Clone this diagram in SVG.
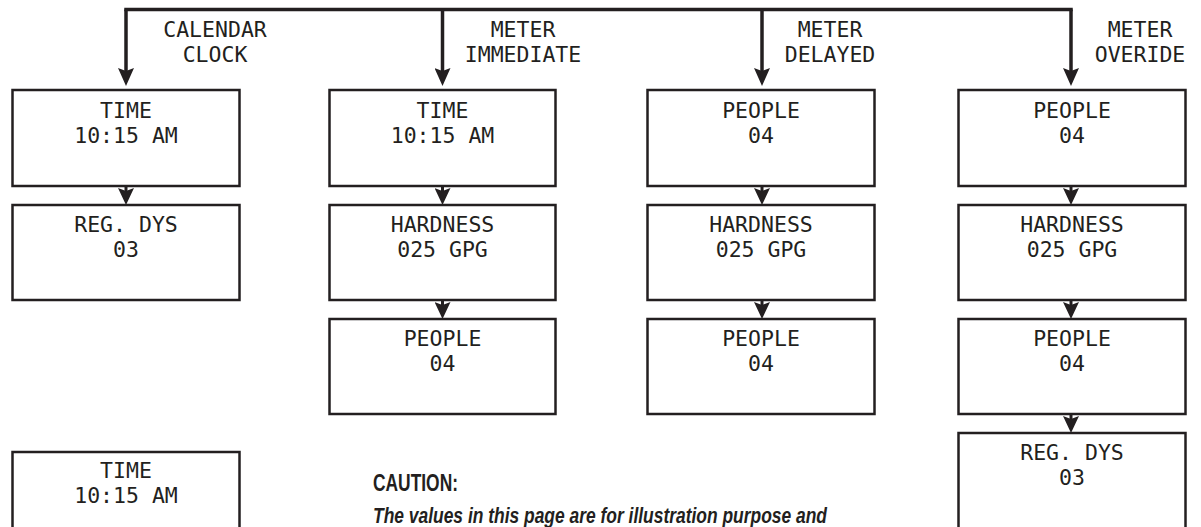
<svg xmlns="http://www.w3.org/2000/svg" width="1201" height="527" viewBox="0 0 1201 527">
<style>
.box{fill:#fff;stroke:#231f20;stroke-width:2.5}
.t{font-family:"DejaVu Sans Mono","Liberation Mono",monospace;font-size:21.5px;fill:#231f20;text-anchor:middle}
.c{fill:none;stroke:#231f20;stroke-width:3.5}
.s{fill:none;stroke:#231f20;stroke-width:3}
.cap{font-family:"Liberation Sans",Arial,sans-serif;font-weight:bold;fill:#231f20}
</style>
<defs>
<marker id="ah" viewBox="-18 -8 18 16" refX="-9" refY="0" markerWidth="18" markerHeight="16" markerUnits="userSpaceOnUse" orient="auto">
<path d="M0,0 L-18,-8 L-15,0 L-18,8 Z" fill="#231f20"/>
</marker>
<marker id="ah2" viewBox="-17 -8 17 16" refX="-9" refY="0" markerWidth="17" markerHeight="16" markerUnits="userSpaceOnUse" orient="auto">
<path d="M0,0 L-17,-8 L-14,0 L-17,8 Z" fill="#231f20"/>
</marker>
</defs>
<g id="connectors">
<path class="c" d="M124.25,9.5 H1072.75"/>
<path class="c" d="M126,9.5 V77" marker-end="url(#ah)"/>
<path class="c" d="M442.5,9.5 V77" marker-end="url(#ah)"/>
<path class="c" d="M762,9.5 V77" marker-end="url(#ah)"/>
<path class="c" d="M1071,9.5 V77" marker-end="url(#ah)"/>
<path class="s" d="M126,186 V196" marker-end="url(#ah2)"/>
<path class="s" d="M442.5,186 V196" marker-end="url(#ah2)"/>
<path class="s" d="M442.5,300 V310" marker-end="url(#ah2)"/>
<path class="s" d="M762,186 V196" marker-end="url(#ah2)"/>
<path class="s" d="M762,300 V310" marker-end="url(#ah2)"/>
<path class="s" d="M1071,186 V196" marker-end="url(#ah2)"/>
<path class="s" d="M1071,300 V310" marker-end="url(#ah2)"/>
<path class="s" d="M1071,414 V424" marker-end="url(#ah2)"/>
</g>
<g id="labels">
<text class="t" x="215" y="37">CALENDAR</text>
<text class="t" x="215" y="62">CLOCK</text>
<text class="t" x="523" y="37">METER</text>
<text class="t" x="523" y="62">IMMEDIATE</text>
<text class="t" x="830" y="37">METER</text>
<text class="t" x="830" y="62">DELAYED</text>
<text class="t" x="1140" y="37">METER</text>
<text class="t" x="1140" y="62">OVERIDE</text>
</g>
<g id="c1r1"><rect class="box" x="12.5" y="90" width="227" height="96"/><text class="t" x="126" y="118">TIME</text><text class="t" x="126" y="143">10:15 AM</text></g>
<g id="c1r2"><rect class="box" x="12.5" y="205" width="227" height="95"/><text class="t" x="126" y="232">REG. DYS</text><text class="t" x="126" y="257">03</text></g>
<g id="c2r1"><rect class="box" x="329.5" y="90" width="226" height="96"/><text class="t" x="442.5" y="118">TIME</text><text class="t" x="442.5" y="143">10:15 AM</text></g>
<g id="c2r2"><rect class="box" x="329.5" y="205" width="226" height="95"/><text class="t" x="442.5" y="232">HARDNESS</text><text class="t" x="442.5" y="257">025 GPG</text></g>
<g id="c2r3"><rect class="box" x="329.5" y="319" width="226" height="95"/><text class="t" x="442.5" y="346">PEOPLE</text><text class="t" x="442.5" y="371">04</text></g>
<g id="c3r1"><rect class="box" x="647.5" y="90" width="227" height="96"/><text class="t" x="761" y="118">PEOPLE</text><text class="t" x="761" y="143">04</text></g>
<g id="c3r2"><rect class="box" x="647.5" y="205" width="227" height="95"/><text class="t" x="761" y="232">HARDNESS</text><text class="t" x="761" y="257">025 GPG</text></g>
<g id="c3r3"><rect class="box" x="647.5" y="319" width="227" height="95"/><text class="t" x="761" y="346">PEOPLE</text><text class="t" x="761" y="371">04</text></g>
<g id="c4r1"><rect class="box" x="958.5" y="90" width="227" height="96"/><text class="t" x="1072" y="118">PEOPLE</text><text class="t" x="1072" y="143">04</text></g>
<g id="c4r2"><rect class="box" x="958.5" y="205" width="227" height="95"/><text class="t" x="1072" y="232">HARDNESS</text><text class="t" x="1072" y="257">025 GPG</text></g>
<g id="c4r3"><rect class="box" x="958.5" y="319" width="227" height="95"/><text class="t" x="1072" y="346">PEOPLE</text><text class="t" x="1072" y="371">04</text></g>
<g id="c4r4"><rect class="box" x="958.5" y="433" width="227" height="120"/><text class="t" x="1072" y="460">REG. DYS</text><text class="t" x="1072" y="485">03</text></g>
<g id="bottom-left"><rect class="box" x="12.5" y="452" width="227" height="120"/><text class="t" x="126" y="478">TIME</text><text class="t" x="126" y="503">10:15 AM</text></g>
<g id="caution">
<text class="cap" x="373" y="490.5" font-size="23" textLength="85" lengthAdjust="spacingAndGlyphs">CAUTION:</text>
<text class="cap" x="373" y="523" font-size="22" font-style="italic" textLength="454" lengthAdjust="spacingAndGlyphs">The values in this page are for illustration purpose and</text>
</g>
</svg>
